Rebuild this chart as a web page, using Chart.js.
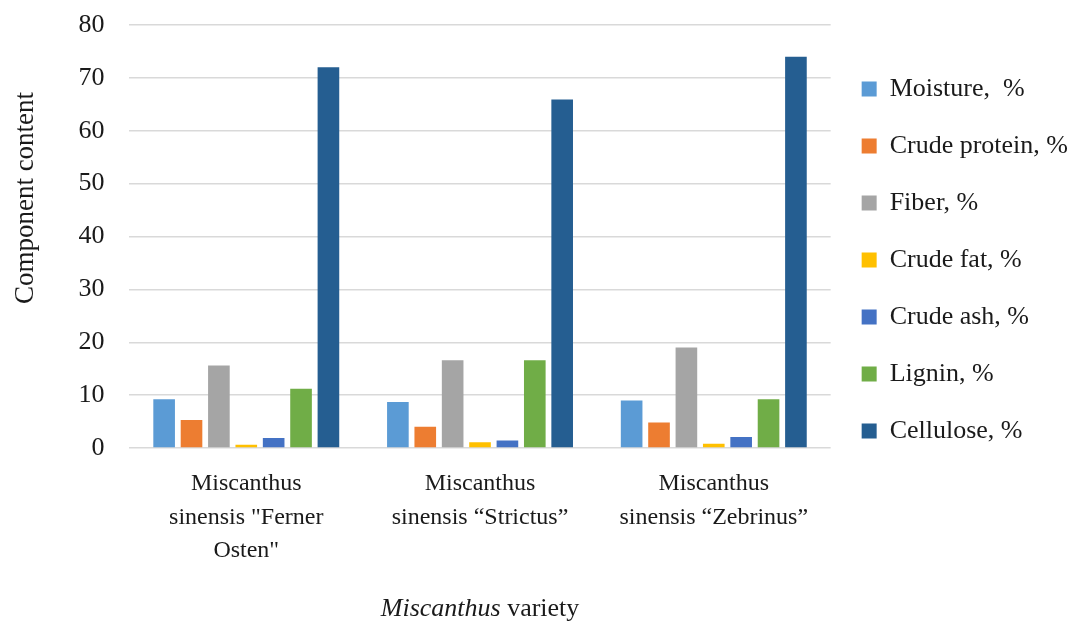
<!DOCTYPE html>
<html>
<head>
<meta charset="utf-8">
<script src="https://cdn.jsdelivr.net/npm/chart.js@4/dist/chart.umd.min.js"></script>
<style>
  html, body { margin: 0; padding: 0; background: #fff; }
  #wrap { width: 1078px; height: 625px; }
</style>
</head>
<body>
<div id="wrap"><canvas id="miscChart" width="1078" height="625"></canvas></div>
<script>
// data
const varieties = [
    ['Miscanthus', 'sinensis "Ferner', 'Osten"'],
    ['Miscanthus', 'sinensis \u201cStrictus\u201d'],
    ['Miscanthus', 'sinensis \u201cZebrinus\u201d']
];
const seriesNames = ['Moisture,  %', 'Crude protein, %', 'Fiber, %', 'Crude fat, %', 'Crude ash, %', 'Lignin, %', 'Cellulose, %'];
const moisture = [9.2, 8.7, 9.0];
const crudeProtein = [5.3, 4.0, 4.8];
const fiber = [15.6, 16.6, 19.0];
const crudeFat = [0.6, 1.1, 0.8];
const crudeAsh = [1.9, 1.4, 2.1];
const lignin = [11.2, 16.6, 9.2];
const cellulose = [72.0, 65.9, 74.0];
const yTicks = [0, 10, 20, 30, 40, 50, 60, 70, 80];

const seriesValues = [moisture, crudeProtein, fiber, crudeFat, crudeAsh, lignin, cellulose];
const seriesColors = ['#5B9BD5', '#ED7D31', '#A5A5A5', '#FFC000', '#4472C4', '#70AD47', '#255E91'];

const fontFamily = "'Liberation Serif', 'Times New Roman', serif";
const textColor = '#1a1a1a';

// draws the axis titles (x title has an italic word)
const axisTitles = {
    id: 'axisTitles',
    afterDraw(chart) {
        const ctx = chart.ctx;
        const area = chart.chartArea;
        ctx.save();
        ctx.fillStyle = textColor;
        ctx.textBaseline = 'middle';

        const italicFont = 'italic 26px ' + fontFamily;
        const plainFont = '26px ' + fontFamily;
        ctx.font = italicFont;
        const w1 = ctx.measureText('Miscanthus').width;
        ctx.font = plainFont;
        const w2 = ctx.measureText(' variety').width;
        let x = (area.left + area.right) / 2 - (w1 + w2) / 2;
        const y = chart.height - 16;
        ctx.textAlign = 'left';
        ctx.font = italicFont;
        ctx.fillText('Miscanthus', x, y);
        ctx.font = plainFont;
        ctx.fillText(' variety', x + w1, y);

        ctx.translate(26, 198);
        ctx.rotate(-Math.PI / 2);
        ctx.textAlign = 'center';
        ctx.font = '27px ' + fontFamily;
        ctx.fillText('Component content', 0, 0);
        ctx.restore();
    }
};

const ctx = document.getElementById('miscChart').getContext('2d');
const miscChart = new Chart(ctx, {
    type: 'bar',
    data: {
        labels: varieties,
        datasets: seriesNames.map(function (name, i) {
            return {
                label: name,
                data: seriesValues[i],
                backgroundColor: seriesColors[i],
                borderWidth: 0,
                categoryPercentage: 0.82,
                barPercentage: 0.79
            };
        })
    },
    options: {
        responsive: false,
        animation: false,
        layout: { padding: { top: 12, right: 0, left: 0, bottom: 0 } },
        scales: {
            x: {
                grid: { display: false },
                border: { display: false },
                ticks: {
                    maxRotation: 0,
                    autoSkip: false,
                    padding: 11,
                    color: textColor,
                    font: { family: fontFamily, size: 24, lineHeight: 1.4 }
                },
                title: {
                    display: true,
                    text: 'Miscanthus variety',
                    color: 'transparent',
                    font: { family: fontFamily, size: 26 },
                    padding: { top: 13, bottom: 2 }
                }
            },
            y: {
                min: 0,
                max: 80,
                afterBuildTicks: function (axis) {
                    axis.ticks = yTicks.map(function (v) { return { value: v }; });
                },
                afterFit: function (scale) {
                    // keep the label gap from pushing the plot top down
                    scale.paddingTop = 25;
                    scale.paddingBottom = 13;
                },
                grid: { color: '#d9d9d9', lineWidth: 1.5, drawTicks: false },
                border: { display: false },
                ticks: {
                    padding: 25,
                    color: textColor,
                    font: { family: fontFamily, size: 26 }
                },
                title: {
                    display: true,
                    text: 'Component content',
                    color: 'transparent',
                    font: { family: fontFamily, size: 27 },
                    padding: { top: 0, bottom: 21 }
                }
            }
        },
        plugins: {
            legend: {
                display: true,
                position: 'right',
                align: 'start',
                title: {
                    display: true,
                    text: ' ',
                    font: { family: fontFamily, size: 10 },
                    padding: { top: 11, bottom: 10 }
                },
                labels: {
                    boxWidth: 15,
                    boxHeight: 15,
                    padding: 31,
                    color: textColor,
                    font: { family: fontFamily, size: 26 }
                }
            },
            tooltip: { enabled: false }
        }
    },
    plugins: [axisTitles]
});
</script>
</body>
</html>
